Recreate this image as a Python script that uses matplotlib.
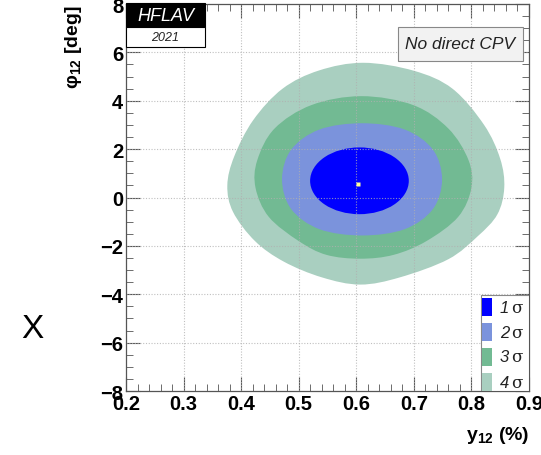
import matplotlib
matplotlib.use("Agg")
import matplotlib.pyplot as plt
from matplotlib.patches import Rectangle, Ellipse, PathPatch
from matplotlib.path import Path
from matplotlib.ticker import MultipleLocator

plt.rcParams['font.family'] = ['Liberation Sans', 'DejaVu Sans']
plt.rcParams['mathtext.fontset'] = 'custom'
plt.rcParams['mathtext.rm'] = 'Liberation Sans'
plt.rcParams['mathtext.bf'] = 'Liberation Sans:bold'
plt.rcParams['mathtext.it'] = 'Liberation Sans:italic'

# ---- data ----
levels = ["1", "2", "3", "4"]
colors = ["#0000ff", "#7b93dc", "#72ba93", "#a9cfc0"]

# 4 sigma contour (y12 %, phi12 deg)
c4_x = [0.612, 0.700, 0.767, 0.822, 0.850, 0.857, 0.845, 0.811, 0.760, 0.676,
        0.607, 0.540, 0.474, 0.424, 0.386, 0.376, 0.388, 0.421, 0.472, 0.535]
c4_y = [5.57, 5.24, 4.50, 3.00, 1.60, 0.40, -0.70, -1.60, -2.55, -3.30,
        -3.60, -3.30, -2.65, -1.80, -0.60, 0.50, 1.70, 3.20, 4.50, 5.25]
# 3 sigma contour
c3_x = [0.609, 0.699, 0.760, 0.795, 0.800, 0.777, 0.722, 0.665,
        0.607, 0.548, 0.500, 0.448, 0.425, 0.428, 0.458, 0.522]
c3_y = [4.19, 3.82, 2.85, 1.54, 0.40, -0.80, -1.80, -2.37,
        -2.53, -2.37, -1.80, -0.80, 0.40, 1.54, 2.85, 3.82]
# 2 sigma contour
c2_x = [0.749, 0.733, 0.684, 0.610, 0.536, 0.487, 0.471, 0.487, 0.536, 0.610, 0.684, 0.733]
c2_y = [0.75, 1.98, 2.81, 3.07, 2.81, 1.98, 0.75, -0.48, -1.31, -1.57, -1.31, -0.48]
# 1 sigma ellipse: center x, center y, half width, half height
c1 = [0.6055, 0.69, 0.0857, 1.38]
best_fit = [0.603, 0.55]

x_ticks = [0.2, 0.3, 0.4, 0.5, 0.6, 0.7, 0.8, 0.9]
y_ticks = [-8, -6, -4, -2, 0, 2, 4, 6, 8]


def smooth_closed_path(xs, ys):
    """Closed Catmull-Rom curve through the given contour points, as cubic Bezier path."""
    n = len(xs)
    pts = list(zip(xs, ys))
    verts = [pts[0]]
    codes = [Path.MOVETO]
    for i in range(n):
        p0 = pts[(i - 1) % n]
        p1 = pts[i]
        p2 = pts[(i + 1) % n]
        p3 = pts[(i + 2) % n]
        k1 = (p1[0] + (p2[0] - p0[0]) / 6, p1[1] + (p2[1] - p0[1]) / 6)
        k2 = (p2[0] - (p3[0] - p1[0]) / 6, p2[1] - (p3[1] - p1[1]) / 6)
        verts += [k1, k2, p2]
        codes += [Path.CURVE4] * 3
    verts.append(pts[0])
    codes.append(Path.CLOSEPOLY)
    return Path(verts, codes)


W, H = 541, 456
fig = plt.figure(figsize=(W / 100, H / 100), dpi=100)
L, R, B, T = 126, 529, 392, 5
ax = fig.add_axes([L / W, 1 - B / H, (R - L) / W, (B - T) / H])
ax.set_xlim(x_ticks[0], x_ticks[-1])
ax.set_ylim(y_ticks[0], y_ticks[-1])

ax.add_patch(PathPatch(smooth_closed_path(c4_x, c4_y), facecolor=colors[3], lw=0, zorder=1))
ax.add_patch(PathPatch(smooth_closed_path(c3_x, c3_y), facecolor=colors[2], lw=0, zorder=1.1))
ax.add_patch(PathPatch(smooth_closed_path(c2_x, c2_y), facecolor=colors[1], lw=0, zorder=1.2))
ax.add_patch(Ellipse((c1[0], c1[1]), 2 * c1[2], 2 * c1[3], color=colors[0], lw=0, zorder=1.3))
ax.plot([best_fit[0]], [best_fit[1]], marker='s', ms=2.5, color='#ffff99', mec='none', zorder=3)

# grid
for xv in x_ticks[1:-1]:
    ax.axvline(xv, color='#b0b0b0', ls=(0, (1, 1.5)), lw=0.8, zorder=2, alpha=0.8)
for yv in y_ticks[1:-1]:
    ax.axhline(yv, color='#b0b0b0', ls=(0, (1, 1.5)), lw=0.8, zorder=2, alpha=0.8)

ax.set_xticks(x_ticks)
ax.set_yticks(y_ticks)
ax.set_xticklabels([f"{v:.1f}" for v in x_ticks])
ax.set_yticklabels([f"{v:d}".replace('-', '\u2212') for v in y_ticks])
ax.xaxis.set_minor_locator(MultipleLocator(0.02))
ax.yaxis.set_minor_locator(MultipleLocator(0.5))
ax.tick_params(which='both', direction='in', top=True, right=True, colors='#555555',
               labelcolor='black', labelsize=14.5, pad=2)
ax.tick_params(which='major', length=10, width=0.8)
ax.tick_params(which='minor', length=5, width=0.6)
for lab in ax.get_xticklabels() + ax.get_yticklabels():
    lab.set_fontweight('bold')
for sp in ax.spines.values():
    sp.set_color('#555555')
    sp.set_linewidth(0.9)
    sp.set_zorder(5)

ax.set_xlabel(r'y$_{\mathbf{12}}$ (%)', fontsize=14, fontweight='bold', loc='right')
ax.xaxis.set_label_coords(1.0, -0.085)
ax.set_ylabel('\u03c6$_{\\mathbf{12}}$ [deg]', fontsize=14, fontweight='bold', loc='top')
ax.yaxis.set_label_coords(-0.104, 1.0)

# HFLAV logo
ax.add_patch(Rectangle((0, 0.94), 0.196, 0.062, transform=ax.transAxes, facecolor='black',
                       edgecolor='black', lw=0.8, clip_on=False, zorder=6))
ax.add_patch(Rectangle((0, 0.889), 0.196, 0.051, transform=ax.transAxes, facecolor='white',
                       edgecolor='black', lw=0.8, clip_on=False, zorder=6))
ax.text(0.098, 0.971, 'HFLAV', transform=ax.transAxes, color='white', style='italic',
        fontsize=13, ha='center', va='center', zorder=7)
ax.text(0.098, 0.914, '2021', transform=ax.transAxes, color='#222222', style='italic',
        fontsize=9, ha='center', va='center', zorder=7)

# No direct CPV box
ax.add_patch(Rectangle((0.675, 0.853), 0.31, 0.088, transform=ax.transAxes, facecolor='#f2f2f2',
                       edgecolor='#888888', lw=0.8, zorder=6))
ax.text(0.83, 0.897, 'No direct CPV', transform=ax.transAxes, style='italic', fontsize=12.5,
        ha='center', va='center', color='#222222', zorder=7)

# legend
ax.add_patch(Rectangle((0.8805, 0.0), 0.1195, 0.248, transform=ax.transAxes, facecolor='white',
                       edgecolor='#888888', lw=0.8, zorder=6))
ycent = [0.217, 0.152, 0.088, 0.023]
for lv, col, yc in zip(levels, colors, ycent):
    ax.add_patch(Rectangle((0.883, yc - 0.023), 0.026, 0.046, transform=ax.transAxes,
                           facecolor=col, edgecolor='none', zorder=7))
    ax.text(0.928, yc, lv, transform=ax.transAxes, style='italic', fontsize=12,
            ha='left', va='center', color='#222222', zorder=7)
    ax.text(0.955, yc, '\u03c3', transform=ax.transAxes, family=['DejaVu Serif'], fontsize=12,
            ha='left', va='center', color='#222222', zorder=7)

fig.text(32 / W, 1 - 330 / H, 'X', fontsize=24, ha='center', va='center')

fig.savefig('out.png', dpi=100)
